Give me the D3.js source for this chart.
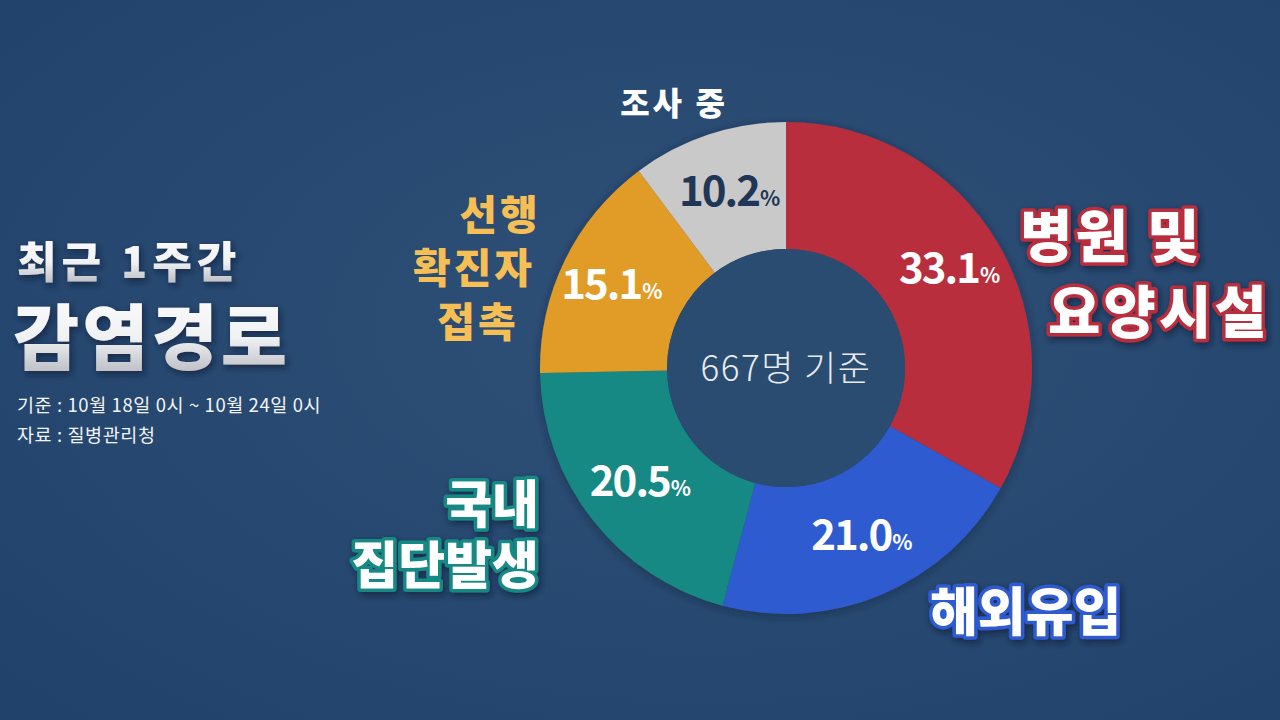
<!DOCTYPE html>
<html><head><meta charset="utf-8">
<script src="https://cdn.jsdelivr.net/npm/d3@7"></script>
<style>
html,body{margin:0;padding:0;background:#27486e;}
svg{display:block;}
text{font-family:"Noto Sans CJK KR","Noto Sans",sans-serif;}
</style></head>
<body><svg id="c" width="1280" height="720"></svg>
<script>
// ---- data ----
const categories = ["병원 및 요양시설", "해외유입", "국내 집단발생", "선행 확진자 접촉", "조사 중"];
const values = [33.1, 21.0, 20.5, 15.1, 10.2];
const valueLabels = ["33.1", "21.0", "20.5", "15.1", "10.2"];
const colors = ["#b92d3e", "#2f5bd0", "#168985", "#e09c25", "#c9c9c9"];
const totalLabel = "667명 기준";
const titleLines = ["최근 1주간", "감염경로"];
const noteLines = ["기준 : 10월 18일 0시 ~ 10월 24일 0시", "자료 : 질병관리청"];

const svg = d3.select("#c");
const W = 1280, H = 720;
const defs = svg.append("defs");

// background
const bg = defs.append("radialGradient").attr("id","bg").attr("cx","55%").attr("cy","45%").attr("r","75%");
bg.append("stop").attr("offset","0%").attr("stop-color","#2f5077");
bg.append("stop").attr("offset","100%").attr("stop-color","#21426a");
svg.append("rect").attr("width",W).attr("height",H).attr("fill","url(#bg)");

const tg = defs.append("linearGradient").attr("id","tg").attr("x1",0).attr("y1",0).attr("x2",0).attr("y2",1);
tg.append("stop").attr("offset","0%").attr("stop-color","#ffffff");
tg.append("stop").attr("offset","55%").attr("stop-color","#f0f1f3");
tg.append("stop").attr("offset","100%").attr("stop-color","#a9adb5");

const sh = defs.append("filter").attr("id","sh").attr("x","-20%").attr("y","-20%").attr("width","140%").attr("height","140%");
sh.append("feDropShadow").attr("dx",2).attr("dy",3).attr("stdDeviation",3).attr("flood-color","#0b1c33").attr("flood-opacity",0.7);
const sh2 = defs.append("filter").attr("id","sh2").attr("x","-20%").attr("y","-20%").attr("width","140%").attr("height","140%");
sh2.append("feDropShadow").attr("dx",0).attr("dy",2).attr("stdDeviation",4).attr("flood-color","#0b1c33").attr("flood-opacity",0.5);

// ---- donut ----
const cx = 786, cy = 368, R = 246, r0 = 119;
const pie = d3.pie().sort(null).value(d => d);
const arcs = pie(values);
const arc = d3.arc().innerRadius(r0).outerRadius(R);
const labelArc = d3.arc().innerRadius(185).outerRadius(185);

const g = svg.append("g").attr("transform",`translate(${cx},${cy})`);
g.append("g").attr("filter","url(#sh2)")
 .selectAll("path").data(arcs).join("path")
 .attr("d", arc).attr("fill",(d,i)=>colors[i]);
g.append("circle").attr("r",r0).attr("fill","#2b4c71");

const labelNudge = [[4,8],[4,12],[0,14],[-8,12],[2,14]];
arcs.forEach((d,i)=>{
  const [x,y] = labelArc.centroid(d);
  const t = g.append("text")
    .attr("x", x + labelNudge[i][0]).attr("y", y + labelNudge[i][1])
    .attr("text-anchor","middle")
    .attr("fill", i===4 ? "#1f3656" : "#ffffff")
    .attr("font-weight",700);
  t.append("tspan").attr("font-size",42).attr("letter-spacing",-2).text(valueLabels[i]);
  t.append("tspan").attr("font-size",21).attr("dx",1).text("%");
});

g.append("text").attr("x",0).attr("y",13).attr("text-anchor","middle")
  .attr("fill","#e8ebef").attr("font-size",35).attr("font-weight",300).attr("letter-spacing",1.5)
  .text(totalLabel);

// ---- category labels ----
const catLines = [["병원 및","요양시설"],["해외유입"],["국내","집단발생"],["선행","확진자","접촉"],["조사 중"]];
const catStyle = [
  {fill:"#ffffff", stroke:colors[0], size:57, ls:3, anchor:"start", pos:[[1020,257],[1048,333]]},
  {fill:"#ffffff", stroke:"#2f5bd0", size:52, ls:0, anchor:"start", pos:[[930,631]]},
  {fill:"#ffffff", stroke:"#168985", size:51, ls:0, anchor:"end", pos:[[539,523],[539,584]]},
  {fill:"#f6bf55", stroke:null, size:41, ls:3, anchor:"middle", pos:[[500,230],[474,283],[478,337]]},
  {fill:"#ffffff", stroke:null, size:32, ls:3, anchor:"middle", pos:[[674,115]]}
];
catLines.forEach((lines,i)=>{
  const s = catStyle[i];
  lines.forEach((ln,j)=>{
    const t = svg.append("text")
      .attr("x", s.pos[j][0]).attr("y", s.pos[j][1])
      .attr("text-anchor", s.anchor)
      .attr("font-size", s.size).attr("font-weight",900).attr("letter-spacing", s.ls)
      .attr("fill", s.fill).text(ln);
    if (s.stroke) {
      t.attr("stroke", s.stroke).attr("stroke-width",7).attr("stroke-linejoin","round")
       .attr("paint-order","stroke").attr("filter","url(#sh)");
    }
  });
});

// ---- title block ----
svg.append("text").attr("x",17).attr("y",278).attr("font-size",43).attr("font-weight",900)
  .attr("fill","url(#tg)").attr("filter","url(#sh)").attr("letter-spacing",5).text(titleLines[0]);
svg.append("text").attr("x",13).attr("y",364).attr("font-size",72).attr("font-weight",900)
  .attr("fill","url(#tg)").attr("filter","url(#sh)").attr("letter-spacing",3).text(titleLines[1]);
noteLines.forEach((t,i)=>{
  svg.append("text").attr("x",17).attr("y",412 + i*30).attr("font-size",18.5).attr("font-weight",400)
    .attr("fill","#f2f4f7").attr("letter-spacing",0.6).text(t);
});
</script>
</body></html>
